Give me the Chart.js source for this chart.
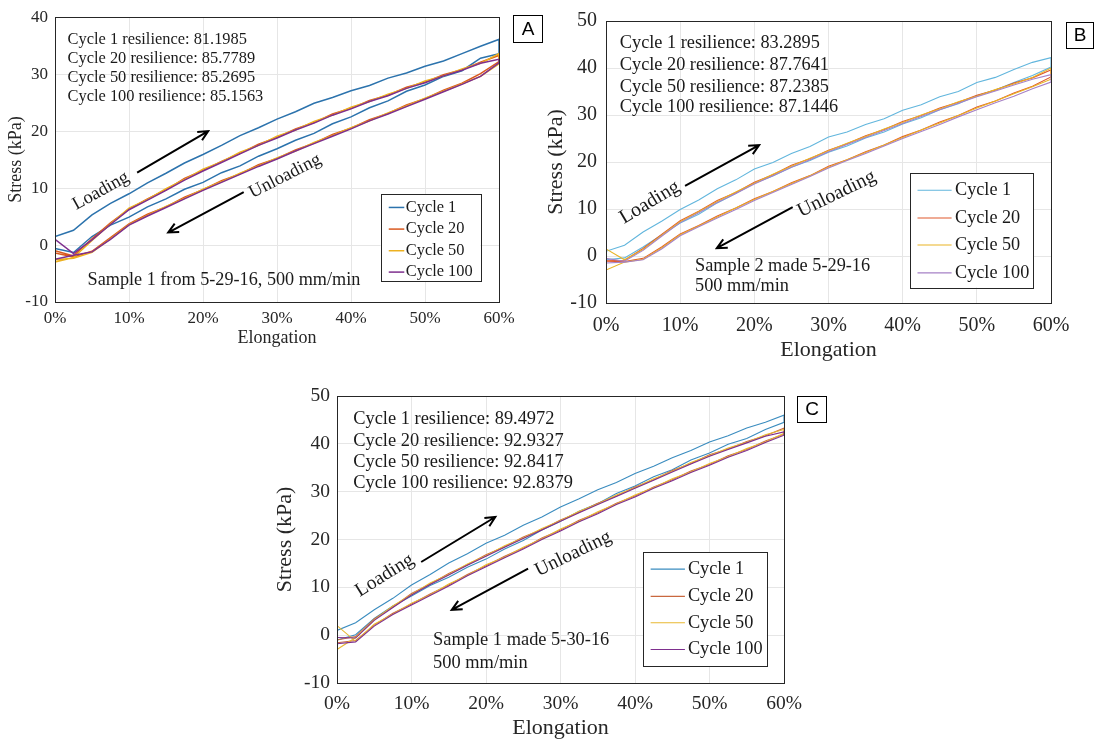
<!DOCTYPE html>
<html>
<head>
<meta charset="utf-8">
<script src="https://cdn.jsdelivr.net/npm/chart.js@4.4.1/dist/chart.umd.min.js"></script>
<style>
  body { margin: 0; background: #fff; }
  canvas { position: absolute; }
</style>
</head>
<body>
<canvas id="panelA" width="550" height="355" style="left:0;top:0"></canvas>
<canvas id="panelB" width="564" height="370" style="left:530px;top:0"></canvas>
<canvas id="panelC" width="560" height="365" style="left:270px;top:375px"></canvas>
<script>
// elongation (%) sampled along each loading / unloading branch
const elongation = [0, 2.5, 5, 7.5, 10, 12.5, 15, 17.5, 20, 22.5, 25, 27.5, 30, 32.5, 35, 37.5, 40, 42.5, 45, 47.5, 50, 52.5, 55, 57.5, 60];
const cycleLabels = ['Cycle 1', 'Cycle 20', 'Cycle 50', 'Cycle 100'];

// Panel A - sample 1 from 5-29-16 (stress, kPa)
const aC1Load = [1.5, 2.6, 5.3, 7.3, 9.0, 10.9, 12.6, 14.4, 15.9, 17.5, 19.2, 20.6, 22.1, 23.4, 24.9, 25.9, 27.1, 28.0, 29.3, 30.2, 31.4, 32.3, 33.6, 34.9, 36.1];
const aC1Unload = [-0.6, -1.3, 1.5, 3.5, 4.9, 6.7, 8.1, 9.8, 11.0, 12.7, 13.9, 15.6, 16.9, 18.4, 19.6, 21.3, 22.5, 24.1, 25.3, 27.0, 28.1, 29.6, 30.6, 32.8, 33.6];
const aC20Load = [-1.0, -1.9, 1.1, 3.9, 6.3, 8.1, 9.7, 11.7, 13.1, 14.7, 16.1, 17.7, 18.9, 20.4, 21.5, 23.0, 24.0, 25.4, 26.3, 27.7, 28.6, 29.9, 30.8, 32.1, 33.3];
const aC20Unload = [-1.4, -2.1, -1.1, 1.3, 3.7, 5.4, 6.7, 8.4, 9.7, 11.3, 12.5, 14.1, 15.2, 16.7, 17.9, 19.4, 20.5, 22.0, 23.1, 24.6, 25.7, 27.2, 28.4, 30.1, 32.2];
const aC50Load = [-3.0, -2.2, 0.8, 3.7, 6.5, 8.0, 9.9, 11.5, 13.3, 14.6, 16.3, 17.5, 19.1, 20.2, 21.7, 22.8, 24.2, 25.2, 26.5, 27.5, 28.8, 29.7, 30.9, 31.9, 33.6];
const aC50Unload = [-2.6, -2.3, -1.3, 1.1, 3.6, 5.2, 6.8, 8.2, 9.8, 11.1, 12.6, 13.9, 15.3, 16.5, 18.0, 19.2, 20.6, 21.8, 23.2, 24.4, 25.8, 27.0, 28.3, 29.6, 31.8];
const aC100Load = [1.0, -1.5, 0.9, 3.6, 6.2, 7.9, 9.6, 11.4, 13.0, 14.5, 16.0, 17.5, 18.8, 20.2, 21.4, 22.8, 23.9, 25.2, 26.2, 27.5, 28.5, 29.7, 30.7, 31.9, 32.6];
const aC100Unload = [-2.5, -1.8, -1.2, 1.0, 3.5, 5.1, 6.6, 8.1, 9.6, 11.0, 12.4, 13.8, 15.1, 16.5, 17.8, 19.1, 20.4, 21.8, 23.0, 24.3, 25.6, 26.9, 28.2, 29.6, 32.0];

// Panel B - sample 2 made 5-29-16
const bC1Load = [1.0, 2.3, 5.1, 7.4, 9.9, 11.9, 14.3, 16.2, 18.5, 19.9, 21.8, 23.3, 25.3, 26.4, 28.0, 29.2, 31.0, 32.2, 33.9, 35.0, 36.9, 38.0, 39.7, 41.2, 42.2];
const bC1Unload = [-0.8, -0.4, 1.9, 4.5, 7.0, 8.9, 11.3, 13.3, 15.5, 17.0, 18.9, 20.3, 22.1, 23.4, 25.1, 26.4, 28.1, 29.4, 31.1, 32.4, 34.1, 35.3, 36.9, 38.4, 40.2];
const bC20Load = [-1.0, -0.9, 1.6, 4.6, 7.5, 9.5, 11.8, 13.5, 15.7, 17.3, 19.3, 20.7, 22.5, 23.9, 25.6, 26.9, 28.6, 29.9, 31.5, 32.7, 34.2, 35.3, 36.8, 37.9, 39.6];
const bC20Unload = [-1.1, -1.2, -0.5, 1.9, 4.7, 6.5, 8.5, 10.2, 12.2, 13.7, 15.6, 17.1, 19.1, 20.5, 22.2, 23.6, 25.4, 26.8, 28.5, 29.9, 31.7, 33.0, 34.7, 36.1, 38.1];
const bC50Load = [1.5, -0.8, 1.4, 4.4, 7.3, 9.4, 11.6, 13.6, 15.5, 17.4, 19.1, 20.8, 22.4, 24.0, 25.4, 27.0, 28.4, 30.0, 31.3, 32.8, 34.0, 35.4, 36.6, 38.0, 40.0];
const bC50Unload = [-3.0, -1.3, -0.7, 1.7, 4.5, 6.4, 8.3, 10.2, 12.0, 13.7, 15.4, 17.1, 18.9, 20.5, 22.0, 23.6, 25.2, 26.8, 28.3, 29.9, 31.5, 33.0, 34.5, 36.0, 37.6];
const bC100Load = [-0.5, -1.1, 1.2, 4.2, 7.1, 9.2, 11.4, 13.3, 15.3, 17.1, 18.9, 20.5, 22.2, 23.7, 25.2, 26.7, 28.2, 29.7, 31.1, 32.5, 33.9, 35.1, 36.4, 37.6, 38.6];
const bC100Unload = [-1.5, -1.3, -0.8, 1.5, 4.3, 6.2, 8.1, 9.9, 11.8, 13.5, 15.2, 16.9, 18.7, 20.3, 21.8, 23.4, 25.0, 26.5, 28.0, 29.6, 31.1, 32.6, 34.0, 35.6, 37.0];

// Panel C - sample 1 made 5-30-16
const cC1Load = [1.0, 2.6, 5.3, 7.7, 10.5, 12.7, 15.1, 17.0, 19.2, 20.9, 23.0, 24.7, 26.8, 28.5, 30.4, 31.9, 33.8, 35.3, 37.1, 38.6, 40.4, 41.7, 43.3, 44.5, 46.0];
const cC1Unload = [-1.0, 0.1, 3.5, 6.1, 8.2, 10.4, 12.1, 14.2, 15.9, 18.0, 19.8, 22.0, 23.8, 25.9, 27.5, 29.6, 31.2, 33.1, 34.6, 36.6, 38.1, 39.9, 41.1, 43.0, 44.5];
const cC20Load = [-1.0, -0.3, 3.4, 5.9, 8.7, 10.7, 12.9, 14.7, 16.8, 18.5, 20.5, 22.1, 24.1, 25.7, 27.6, 29.1, 31.0, 32.5, 34.4, 35.9, 37.7, 38.9, 40.5, 41.7, 43.3];
const cC20Unload = [-1.6, -1.1, 2.1, 4.6, 6.5, 8.6, 10.5, 12.7, 14.5, 16.5, 18.2, 20.3, 22.0, 24.0, 25.6, 27.6, 29.1, 31.0, 32.5, 34.3, 35.7, 37.5, 38.8, 40.6, 42.0];
const cC50Load = [-3.0, -0.5, 3.2, 6.1, 8.5, 10.9, 12.7, 14.9, 16.6, 18.7, 20.3, 22.3, 23.9, 25.9, 27.4, 29.3, 30.8, 32.7, 34.2, 36.1, 37.5, 39.1, 40.3, 41.9, 43.0];
const cC50Unload = [2.0, -1.3, 2.3, 4.4, 6.7, 8.4, 10.7, 12.5, 14.7, 16.3, 18.4, 20.1, 22.2, 23.8, 25.8, 27.4, 29.3, 30.8, 32.7, 34.1, 35.9, 37.3, 39.0, 40.4, 42.2];
const cC100Load = [-0.5, -0.6, 3.1, 5.8, 8.4, 10.6, 12.6, 14.6, 16.5, 18.4, 20.2, 22.0, 23.8, 25.6, 27.3, 29.0, 30.7, 32.4, 34.1, 35.8, 37.4, 38.8, 40.2, 41.6, 42.5];
const cC100Unload = [-1.8, -1.4, 1.9, 4.3, 6.3, 8.3, 10.3, 12.4, 14.3, 16.2, 18.0, 20.0, 21.8, 23.7, 25.4, 27.3, 28.9, 30.7, 32.3, 34.0, 35.5, 37.2, 38.6, 40.3, 41.8];

const FONT = '"Liberation Serif", "Times New Roman", serif';

// loading branch goes out to 60 %, unloading branch comes back to 0 %
function loop(load, unload) {
  const pts = elongation.map((x, i) => ({ x: x, y: load[i] }));
  for (let i = elongation.length - 1; i >= 0; i--) pts.push({ x: elongation[i], y: unload[i] });
  return pts;
}

const decor = {
  id: 'decor',
  afterDatasetsDraw(chart, args, o) {
    const { ctx, chartArea: a, scales } = chart;
    const px = v => scales.x.getPixelForValue(v);
    const py = v => scales.y.getPixelForValue(v);
    ctx.save();

    // box around the axes
    ctx.strokeStyle = '#262626';
    ctx.lineWidth = 1;
    ctx.strokeRect(Math.round(a.left) + 0.5, Math.round(a.top) + 0.5, Math.round(a.width), Math.round(a.height));

    ctx.fillStyle = '#1a1a1a';
    ctx.textBaseline = 'middle';
    ctx.textAlign = 'left';
    ctx.font = o.textSize + 'px ' + FONT;
    o.resilience.forEach((t, i) => ctx.fillText(t, px(o.resX), py(o.resY[i])));
    ctx.font = o.sampleSize + 'px ' + FONT;
    o.sample.forEach((t, i) => ctx.fillText(t, px(o.sampleX), py(o.sampleY[i])));

    // rotated words
    ctx.font = o.wordSize + 'px ' + FONT;
    ctx.textAlign = 'center';
    o.words.forEach(w => {
      ctx.save();
      ctx.translate(px(w.x), py(w.y));
      ctx.rotate(-w.angle * Math.PI / 180);
      ctx.fillText(w.text, 0, 0);
      ctx.restore();
    });

    // arrows
    ctx.strokeStyle = '#000';
    ctx.lineWidth = 2;
    o.arrows.forEach(ar => {
      const x0 = px(ar[0]), y0 = py(ar[1]), x1 = px(ar[2]), y1 = py(ar[3]);
      const ang = Math.atan2(y1 - y0, x1 - x0);
      ctx.beginPath();
      ctx.moveTo(x0, y0);
      ctx.lineTo(x1, y1);
      ctx.moveTo(x1 - 11 * Math.cos(ang - 0.45), y1 - 11 * Math.sin(ang - 0.45));
      ctx.lineTo(x1, y1);
      ctx.lineTo(x1 - 11 * Math.cos(ang + 0.45), y1 - 11 * Math.sin(ang + 0.45));
      ctx.stroke();
    });

    // legend
    const lg = o.legend;
    const lx0 = px(lg.left), lx1 = px(lg.right), ly0 = py(lg.top), ly1 = py(lg.bottom);
    ctx.fillStyle = '#fff';
    ctx.fillRect(lx0, ly0, lx1 - lx0, ly1 - ly0);
    ctx.strokeStyle = '#262626';
    ctx.lineWidth = 1;
    ctx.strokeRect(Math.round(lx0) + 0.5, Math.round(ly0) + 0.5, Math.round(lx1 - lx0), Math.round(ly1 - ly0));
    ctx.font = lg.size + 'px ' + FONT;
    ctx.textAlign = 'left';
    chart.data.datasets.forEach((ds, i) => {
      const yy = py(lg.rows[i]);
      ctx.strokeStyle = ds.borderColor;
      ctx.lineWidth = ds.borderWidth;
      ctx.beginPath();
      ctx.moveTo(px(lg.lineFrom), yy);
      ctx.lineTo(px(lg.lineTo), yy);
      ctx.stroke();
      ctx.fillStyle = '#1a1a1a';
      ctx.fillText(ds.label, px(lg.textX), yy);
    });

    // panel letter
    const b = o.letterBox;
    ctx.fillStyle = '#fff';
    ctx.fillRect(b[0], b[1], b[2], b[3]);
    ctx.strokeStyle = '#000';
    ctx.lineWidth = 1;
    ctx.strokeRect(b[0] + 0.5, b[1] + 0.5, b[2], b[3]);
    ctx.fillStyle = '#000';
    ctx.textAlign = 'center';
    ctx.font = '19px "Liberation Sans", Arial, sans-serif';
    ctx.fillText(o.letter, b[0] + b[2] / 2 + 0.5, b[1] + b[3] / 2 + 1);

    ctx.restore();
  }
};

function makePanel(id, p) {
  new Chart(document.getElementById(id), {
    type: 'scatter',
    data: {
      datasets: p.series.map((s, i) => ({
        label: cycleLabels[i],
        data: loop(s[0], s[1]),
        showLine: true,
        borderColor: p.colors[i],
        borderWidth: p.lineWidth,
        pointRadius: 0,
        tension: 0,
        order: 3 - i
      }))
    },
    options: {
      responsive: false,
      animation: false,
      devicePixelRatio: 1,
      layout: { padding: { left: 0, top: p.top, right: p.right, bottom: 0 } },
      plugins: {
        legend: { display: false },
        tooltip: { enabled: false },
        decor: p.decor
      },
      scales: {
        x: {
          type: 'linear', min: 0, max: 60,
          afterFit: s => { s.height = p.xHeight; },
          ticks: { stepSize: 10, callback: v => v + '%', color: '#262626', padding: p.xPad, maxRotation: 0, font: { family: FONT, size: p.tickSize } },
          grid: { color: '#e6e6e6', drawTicks: false },
          border: { color: '#262626' },
          title: { display: true, text: 'Elongation', color: '#262626', padding: { top: 0, bottom: p.xTitlePad }, font: { family: FONT, size: p.titleSize, lineHeight: p.titleLH } }
        },
        y: {
          min: -10, max: p.yMax,
          afterFit: s => { s.width = p.yWidth; },
          ticks: { stepSize: 10, color: '#262626', padding: p.yPad, font: { family: FONT, size: p.tickSize } },
          grid: { color: '#e6e6e6', drawTicks: false },
          border: { color: '#262626' },
          title: { display: true, text: 'Stress (kPa)', color: '#262626', padding: { top: p.yTitlePad, bottom: 0 }, font: { family: FONT, size: p.titleSize, lineHeight: 1.2 } }
        }
      }
    },
    plugins: [decor]
  });
}

makePanel('panelA', {
  series: [[aC1Load, aC1Unload], [aC20Load, aC20Unload], [aC50Load, aC50Unload], [aC100Load, aC100Unload]],
  colors: ['#2c73ad', '#d9591f', '#edb120', '#7e2f8e'],
  lineWidth: 1.5, yMax: 40,
  top: 15, right: 51, xHeight: 53, yWidth: 55,
  tickSize: 17, xPad: 6, yPad: 7, titleSize: 18, titleLH: 1.2, xTitlePad: 6, yTitlePad: 5,
  decor: {
    textSize: 16.4, sampleSize: 18.2,
    resX: 1.7, resY: [36.0, 32.7, 29.3, 26.0],
    resilience: ['Cycle 1 resilience: 81.1985', 'Cycle 20 resilience: 85.7789', 'Cycle 50 resilience: 85.2695', 'Cycle 100 resilience: 85.1563'],
    sampleX: 4.4, sampleY: [-6.2],
    sample: ['Sample 1 from 5-29-16, 500 mm/min'],
    wordSize: 18.5,
    words: [{ text: 'Loading', x: 6.2, y: 9.5, angle: 29 }, { text: 'Unloading', x: 31.1, y: 12.1, angle: 27 }],
    arrows: [[11.1, 12.7, 20.7, 20.0], [25.5, 9.3, 15.3, 2.2]],
    legend: { left: 44.0, right: 57.5, top: 8.9, bottom: -6.4, rows: [6.6, 2.8, -1.0, -4.75], lineFrom: 45.1, lineTo: 47.2, textX: 47.4, size: 16.4 },
    letter: 'A', letterBox: [513, 15, 29, 27]
  }
});

makePanel('panelB', {
  series: [[bC1Load, bC1Unload], [bC20Load, bC20Unload], [bC50Load, bC50Unload], [bC100Load, bC100Unload]],
  colors: ['#62b6dd', '#e0592c', '#e9b425', '#a681c6'],
  lineWidth: 1.1, yMax: 50,
  top: 18, right: 43, xHeight: 67, yWidth: 76,
  tickSize: 20, xPad: 11, yPad: 9, titleSize: 22, titleLH: 1.2, xTitlePad: 7, yTitlePad: 13,
  decor: {
    textSize: 18.3, sampleSize: 18.3,
    resX: 1.86, resY: [45.3, 40.6, 36.0, 31.6],
    resilience: ['Cycle 1 resilience: 83.2895', 'Cycle 20 resilience: 87.7641', 'Cycle 50 resilience: 87.2385', 'Cycle 100 resilience: 87.1446'],
    sampleX: 12.0, sampleY: [-2.2, -6.4],
    sample: ['Sample 2 made 5-29-16', '500 mm/min'],
    wordSize: 20,
    words: [{ text: 'Loading', x: 5.9, y: 11.4, angle: 31 }, { text: 'Unloading', x: 31.1, y: 13.2, angle: 26 }],
    arrows: [[10.66, 14.9, 20.65, 23.6], [25.17, 10.4, 14.94, 1.65]],
    legend: { left: 40.97, right: 57.57, top: 17.7, bottom: -6.7, rows: [14.0, 8.1, 2.35, -3.6], lineFrom: 42.0, lineTo: 46.6, textX: 47.06, size: 18.2 },
    letter: 'B', letterBox: [536, 22, 27, 26]
  }
});

makePanel('panelC', {
  series: [[cC1Load, cC1Unload], [cC20Load, cC20Unload], [cC50Load, cC50Unload], [cC100Load, cC100Unload]],
  colors: ['#3a8cbf', '#c9683f', '#e8b832', '#7e2f8e'],
  lineWidth: 1.1, yMax: 50,
  top: 21, right: 46, xHeight: 57, yWidth: 67,
  tickSize: 19.5, xPad: 9, yPad: 7, titleSize: 22, titleLH: 1.0, xTitlePad: 1, yTitlePad: 2,
  decor: {
    textSize: 18.4, sampleSize: 18.4,
    resX: 2.18, resY: [45.1, 40.5, 36.1, 31.7],
    resilience: ['Cycle 1 resilience: 89.4972', 'Cycle 20 resilience: 92.9327', 'Cycle 50 resilience: 92.8417', 'Cycle 100 resilience: 92.8379'],
    sampleX: 12.9, sampleY: [-1.08, -5.82],
    sample: ['Sample 1 made 5-30-16', '500 mm/min'],
    wordSize: 19.5,
    words: [{ text: 'Loading', x: 6.4, y: 12.5, angle: 32 }, { text: 'Unloading', x: 31.7, y: 17.0, angle: 26 }],
    arrows: [[11.3, 15.3, 21.25, 24.7], [25.65, 13.9, 15.4, 5.3]],
    legend: { left: 41.06, right: 57.7, top: 17.4, bottom: -6.45, rows: [13.8, 8.1, 2.6, -3.0], lineFrom: 42.1, lineTo: 46.7, textX: 47.1, size: 18.3 },
    letter: 'C', letterBox: [527, 21, 29, 26]
  }
});
</script>
</body>
</html>
